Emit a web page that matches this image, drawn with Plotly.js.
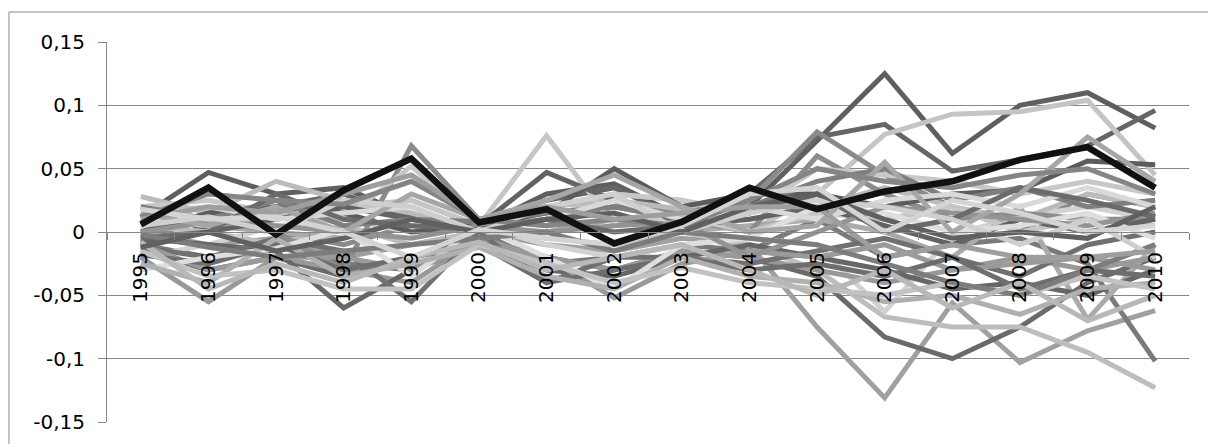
<!DOCTYPE html>
<html>
<head>
<meta charset="utf-8">
<script src="https://cdn.plot.ly/plotly-3.0.1.min.js"></script>
<style>
  html, body { margin: 0; padding: 0; background: #fff; }
  #chart { width: 1208px; height: 444px; }
</style>
</head>
<body>
<div id="chart"></div>
<script>
const years = ['1995','1996','1997','1998','1999','2000','2001','2002','2003','2004','2005','2006','2007','2008','2009','2010'];

const yTickVals = [0.15, 0.1, 0.05, 0, -0.05, -0.1, -0.15];
const yTickText = ['0,15', '0,1', '0,05', '0', '-0,05', '-0,1', '-0,15'];

// Gray series
const g01 = [0.012, 0.047, 0.03, 0.035, 0.012, 0.004, 0.03, 0.038, 0.012, 0.02, 0.072, 0.125, 0.062, 0.1, 0.11, 0.082];
const g02 = [-0.01, 0.005, 0.02, 0.03, 0.01, 0.008, 0.025, 0.035, 0.01, 0.03, 0.075, 0.085, 0.048, 0.057, 0.068, 0.096];
const g03 = [0.015, 0.02, 0.01, 0.02, 0.025, 0.005, 0.01, 0.03, 0.025, 0.0, 0.03, 0.077, 0.093, 0.095, 0.104, 0.045];
const g04 = [-0.005, 0.01, 0.0, -0.01, 0.005, 0.002, 0.01, 0.02, 0.015, 0.025, 0.079, 0.045, 0.02, 0.0, 0.03, 0.02];
const g05 = [0.0, -0.01, -0.005, -0.02, -0.01, 0.0, -0.01, -0.015, -0.005, -0.01, -0.075, -0.131, -0.056, -0.103, -0.078, -0.062];
const g06 = [-0.015, -0.03, -0.02, -0.035, -0.02, -0.005, -0.02, -0.03, -0.015, -0.02, -0.035, -0.083, -0.1, -0.075, -0.04, -0.02];
const g07 = [-0.01, -0.02, -0.01, -0.025, -0.03, 0.0, -0.025, -0.02, -0.01, -0.015, 0.01, -0.02, -0.01, -0.005, -0.025, -0.102];
const g08 = [0.005, 0.0, -0.01, 0.005, -0.01, 0.0, -0.005, -0.01, 0.0, -0.01, -0.03, -0.067, -0.075, -0.075, -0.095, -0.123];
const g09 = [-0.02, -0.01, 0.005, 0.01, 0.0, 0.005, -0.01, -0.02, -0.01, -0.005, -0.01, -0.063, -0.002, 0.012, 0.02, 0.01];
const g10 = [0.01, 0.005, 0.0, -0.005, 0.01, 0.003, 0.0, 0.01, 0.0, 0.005, 0.01, 0.0, -0.02, 0.02, -0.069, -0.01];
const g11 = [0.028, 0.015, 0.04, 0.025, 0.015, 0.0, 0.02, 0.025, 0.018, 0.01, 0.02, 0.035, 0.02, 0.01, 0.03, 0.02];
const g12 = [-0.02, -0.055, -0.02, -0.03, -0.04, -0.005, -0.02, -0.03, -0.015, -0.02, -0.03, -0.04, -0.03, -0.02, -0.03, -0.02];
const g13 = [-0.005, -0.01, -0.015, -0.06, -0.03, -0.01, -0.03, -0.035, -0.02, -0.01, -0.02, -0.03, -0.045, -0.04, -0.05, -0.03];
const g14 = [-0.012, -0.02, -0.005, -0.015, -0.055, 0.0, -0.04, -0.02, -0.02, -0.025, -0.015, -0.005, -0.02, -0.035, -0.01, 0.0];
const g15 = [0.005, 0.01, 0.0, -0.03, 0.068, 0.01, 0.005, 0.02, 0.01, 0.0, 0.06, 0.03, 0.01, 0.015, 0.01, 0.01];
const g16 = [0.02, 0.025, 0.015, 0.01, 0.052, 0.005, 0.02, 0.03, 0.025, 0.015, 0.05, 0.045, 0.04, 0.03, 0.04, 0.03];
const g17 = [0.01, 0.005, 0.01, 0.015, 0.025, 0.005, 0.076, 0.005, 0.012, 0.0, 0.015, 0.01, 0.02, 0.0, 0.01, 0.005];
const g18 = [-0.008, 0.0, 0.01, 0.02, 0.01, 0.005, 0.047, 0.025, 0.005, 0.01, 0.02, 0.005, -0.01, 0.01, 0.0, 0.01];
const g19 = [0.0, 0.015, 0.02, 0.015, 0.0, 0.005, 0.015, 0.05, 0.02, 0.03, 0.03, 0.02, 0.03, 0.033, 0.056, 0.053];
const g20 = [-0.01, -0.03, -0.02, -0.02, -0.03, -0.01, -0.02, -0.052, -0.025, -0.015, -0.02, -0.01, -0.03, -0.025, -0.02, -0.03];
const g21 = [-0.018, -0.025, -0.01, -0.03, -0.02, -0.01, -0.04, -0.03, -0.02, -0.03, -0.025, -0.035, -0.02, -0.045, -0.03, -0.035];
const g22 = [-0.03, -0.02, -0.013, 0.002, -0.035, 0.005, -0.02, -0.045, -0.01, -0.005, 0.02, 0.015, 0.0, 0.005, 0.015, -0.005];
const g23 = [0.02, 0.01, 0.025, 0.005, 0.01, 0.008, 0.015, 0.02, 0.01, 0.02, 0.04, 0.05, 0.025, 0.035, 0.02, 0.025];
const g24 = [-0.025, -0.04, -0.005, -0.035, -0.025, -0.012, -0.035, -0.045, -0.02, -0.035, -0.04, -0.055, -0.05, -0.065, -0.045, -0.04];
const g25 = [0.008, 0.02, 0.01, 0.015, 0.02, 0.0, 0.01, 0.025, 0.01, 0.02, 0.01, 0.025, 0.03, 0.02, 0.035, 0.02];
const g26 = [0.0, 0.008, 0.005, 0.0, -0.005, 0.005, 0.0, 0.005, 0.008, -0.02, 0.0, 0.02, 0.015, 0.01, 0.005, 0.015];
const g27 = [-0.005, 0.0, 0.03, 0.01, 0.005, 0.002, 0.01, 0.0, 0.005, 0.015, 0.03, 0.0, 0.01, 0.035, 0.025, 0.012];
const g28 = [-0.015, -0.035, -0.03, -0.045, -0.045, -0.01, -0.025, -0.04, -0.028, -0.04, -0.045, -0.05, -0.04, -0.05, -0.035, -0.045];
const g29 = [0.015, 0.005, 0.02, 0.0, 0.03, 0.01, 0.025, 0.045, 0.02, 0.0, 0.005, 0.055, 0.0, 0.03, 0.075, 0.04];
const g30 = [-0.002, -0.012, -0.02, -0.015, -0.01, -0.005, 0.0, -0.015, 0.0, -0.005, -0.01, -0.025, -0.04, -0.05, -0.03, -0.01];
const g31 = [0.005, 0.012, 0.0, 0.025, 0.02, 0.0, 0.02, 0.03, 0.0, 0.015, 0.025, 0.02, 0.01, -0.01, 0.01, -0.02];
const g32 = [0.012, 0.03, 0.025, 0.022, 0.04, 0.01, 0.005, 0.01, 0.005, 0.025, 0.05, 0.04, 0.035, 0.045, 0.05, 0.03];
const g33 = [-0.008, -0.045, -0.025, -0.04, -0.02, -0.008, -0.03, -0.02, -0.01, -0.03, -0.05, -0.03, -0.06, -0.04, -0.07, -0.05];
const g34 = [-0.012, 0.0, -0.015, -0.005, 0.01, 0.0, 0.01, 0.015, 0.0, 0.02, 0.03, 0.01, -0.005, 0.0, -0.005, 0.02];
const g35 = [0.01, 0.02, 0.015, 0.03, 0.045, 0.01, 0.02, 0.01, 0.015, 0.02, 0.02, -0.02, -0.01, -0.02, -0.02, -0.015];
const g36 = [0.018, 0.01, 0.012, 0.0, -0.02, 0.002, -0.005, -0.01, 0.005, 0.03, 0.035, 0.0, 0.025, 0.015, 0.0, 0.005];

// Highlighted (black) series
const blackSeries = [0.006, 0.035, -0.002, 0.033, 0.058, 0.0075, 0.018, -0.009, 0.008, 0.035, 0.018, 0.032, 0.04, 0.057, 0.067, 0.035];

const graySeries = [g01,g02,g03,g04,g05,g06,g07,g08,g09,g10,g11,g12,g13,g14,g15,g16,g17,g18,g19,g20,g21,g22,g23,g24,g25,g26,g27,g28,g29,g30,g31,g32,g33,g34,g35,g36];
const grayColors = ['#5f5f5f','#666666','#c4c4c4','#8a8a8a','#a0a0a0','#6a6a6a','#7a7a7a','#bdbdbd','#d2d2d2','#ababab',
                    '#bbbbbb','#999999','#666666','#707070','#8c8c8c','#c8c8c8','#c6c6c6','#636363','#5c5c5c','#9a9a9a',
                    '#6e6e6e','#dedede','#7f7f7f','#b0b0b0','#d9d9d9','#939393','#6b6b6b','#c2c2c2','#a6a6a6','#7c7c7c',
                    '#cfcfcf','#858585','#b8b8b8','#606060','#9e9e9e','#d4d4d4'];

const traces = graySeries.map((s, i) => ({
  x: years, y: s, type: 'scatter', mode: 'lines',
  line: { color: grayColors[i], width: 5 },
  hoverinfo: 'skip', showlegend: false
}));
traces.push({
  x: years, y: blackSeries, type: 'scatter', mode: 'lines',
  line: { color: '#111111', width: 6.5 },
  hoverinfo: 'skip', showlegend: false
});

const axisGray = '#878787';
const layout = {
  width: 1208, height: 444,
  margin: { l: 107, r: 19, t: 42, b: 22, pad: 0 },
  paper_bgcolor: '#ffffff', plot_bgcolor: '#ffffff',
  font: { family: 'DejaVu Sans', size: 20, color: '#000000' },
  showlegend: false,
  xaxis: {
    type: 'category',
    range: [-0.5, 15.5],
    anchor: 'free', position: 0.5,
    showgrid: false, zeroline: false,
    showline: true, linecolor: axisGray, linewidth: 1,
    ticks: 'outside', ticklen: 7, tickcolor: axisGray, tickwidth: 1,
    tickson: 'boundaries',
    tickangle: -90,
    tickfont: { family: 'DejaVu Sans', size: 20, color: '#000000' },
    ticklabelstandoff: 11
  },
  yaxis: {
    range: [-0.15, 0.15],
    tickvals: yTickVals, ticktext: yTickText,
    showgrid: true, gridcolor: axisGray, gridwidth: 1,
    zeroline: false,
    showline: true, linecolor: axisGray, linewidth: 1,
    ticks: 'outside', ticklen: 8, tickcolor: axisGray, tickwidth: 1,
    tickfont: { family: 'DejaVu Sans', size: 20, color: '#000000' },
    ticklabelstandoff: 9
  },
  shapes: [{
    type: 'rect', xref: 'paper', yref: 'paper',
    x0: -0.0906, x1: 1.05, y0: -0.2, y1: 1.0789,
    line: { color: axisGray, width: 1 }, fillcolor: 'rgba(0,0,0,0)', layer: 'below'
  }]
};

Plotly.newPlot('chart', traces, layout, { staticPlot: true, displayModeBar: false });
</script>
</body>
</html>
